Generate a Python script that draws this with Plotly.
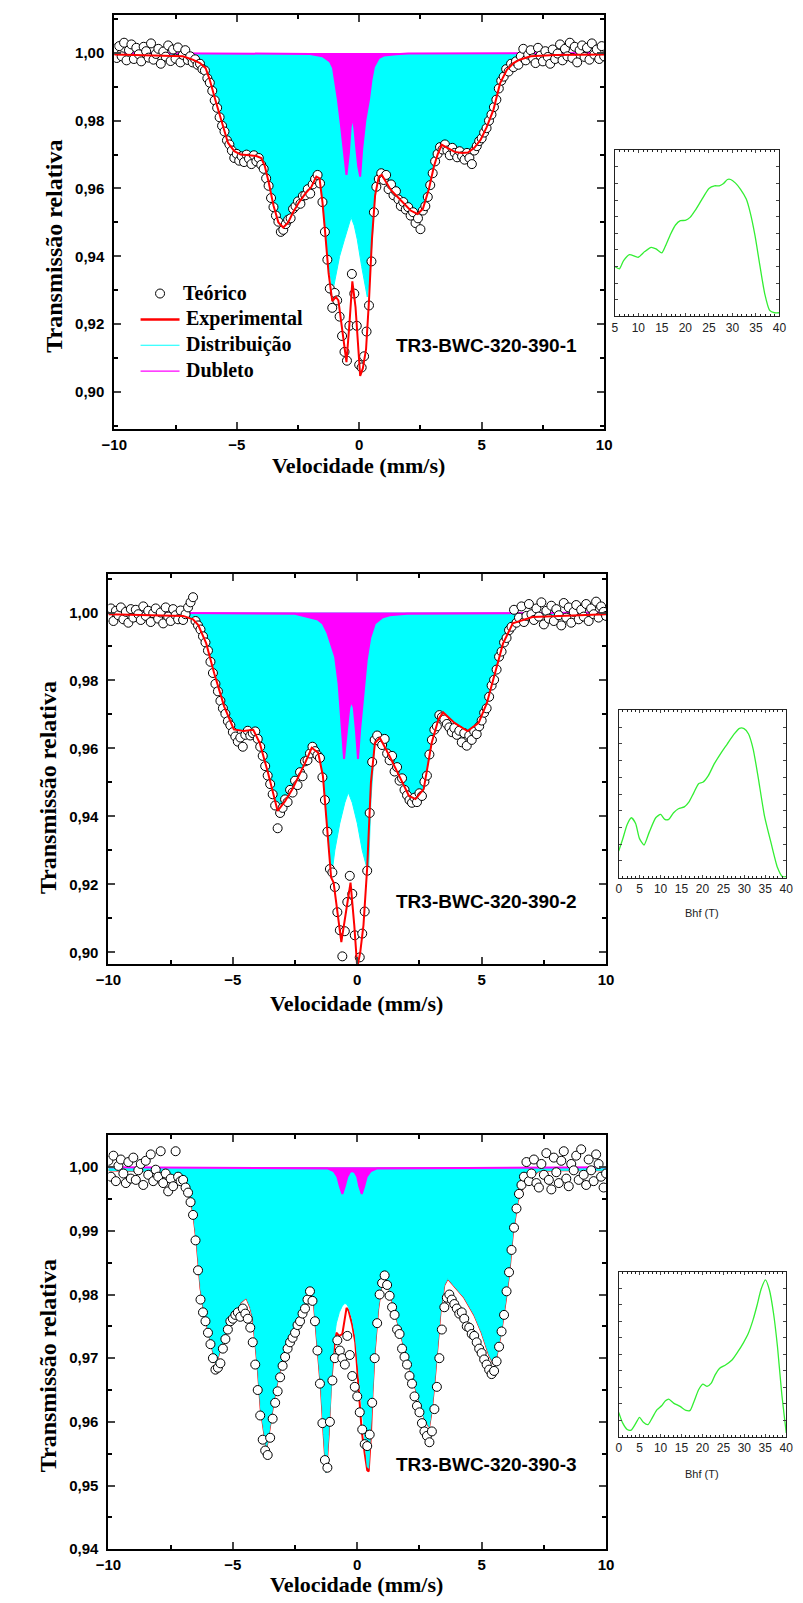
import plotly.graph_objects as go

FIG_W, FIG_H = 803, 1603

# ---------------- velocity channels (mm/s) ----------------
X_CH = [
    -10.0, -9.9, -9.8, -9.7, -9.6, -9.5, -9.4, -9.3, -9.2, -9.1,
    -9.0, -8.9, -8.8, -8.7, -8.6, -8.5, -8.4, -8.3, -8.2, -8.1,
    -8.0, -7.9, -7.8, -7.7, -7.6, -7.5, -7.4, -7.3, -7.2, -7.1,
    -7.0, -6.9, -6.8, -6.7, -6.6, -6.5, -6.4, -6.3, -6.2, -6.1,
    -6.0, -5.9, -5.8, -5.7, -5.6, -5.5, -5.4, -5.3, -5.2, -5.1,
    -5.0, -4.9, -4.8, -4.7, -4.6, -4.5, -4.4, -4.3, -4.2, -4.1,
    -4.0, -3.9, -3.8, -3.7, -3.6, -3.5, -3.4, -3.3, -3.2, -3.1,
    -3.0, -2.9, -2.8, -2.7, -2.6, -2.5, -2.4, -2.3, -2.2, -2.1,
    -2.0, -1.9, -1.8, -1.7, -1.6, -1.5, -1.4, -1.3, -1.2, -1.1,
    -1.0, -0.9, -0.8, -0.7, -0.6, -0.5, -0.4, -0.3, -0.2, -0.1,
    0.0, 0.1, 0.2, 0.3, 0.4, 0.5, 0.6, 0.7, 0.8, 0.9,
    1.0, 1.1, 1.2, 1.3, 1.4, 1.5, 1.6, 1.7, 1.8, 1.9,
    2.0, 2.1, 2.2, 2.3, 2.4, 2.5, 2.6, 2.7, 2.8, 2.9,
    3.0, 3.1, 3.2, 3.3, 3.4, 3.5, 3.6, 3.7, 3.8, 3.9,
    4.0, 4.1, 4.2, 4.3, 4.4, 4.5, 4.6, 4.7, 4.8, 4.9,
    5.0, 5.1, 5.2, 5.3, 5.4, 5.5, 5.6, 5.7, 5.8, 5.9,
    6.0, 6.1, 6.2, 6.3, 6.4, 6.5, 6.6, 6.7, 6.8, 6.9,
    7.0, 7.1, 7.2, 7.3, 7.4, 7.5, 7.6, 7.7, 7.8, 7.9,
    8.0, 8.1, 8.2, 8.3, 8.4, 8.5, 8.6, 8.7, 8.8, 8.9,
    9.0, 9.1, 9.2, 9.3, 9.4, 9.5, 9.6, 9.7, 9.8, 9.9,
    10.0,
]

BASELINE = 1.0

# ---------------- sample 1 ----------------
P1_PTS = [
    1.0012, 0.9985, 1.0020, 0.9990, 1.0030, 0.9978, 1.0008, 1.0025, 0.9982, 1.0015,
    0.9996, 0.9975, 1.0018, 1.0005, 0.9986, 1.0028, 0.9980, 0.9997, 1.0012, 0.9968,
    1.0004, 0.9989, 1.0022, 0.9976, 1.0010, 0.9983, 1.0016, 0.9972, 0.9994, 1.0008,
    0.9979, 0.9990, 0.9972, 0.9981, 0.9965, 0.9968, 0.9952, 0.9948, 0.9925, 0.9912,
    0.9888, 0.9860, 0.9838, 0.9810, 0.9785, 0.9768, 0.9742, 0.9730, 0.9712, 0.9690,
    0.9702, 0.9682, 0.9695, 0.9678, 0.9700, 0.9688, 0.9672, 0.9698, 0.9680, 0.9690,
    0.9670, 0.9658, 0.9630, 0.9608, 0.9572, 0.9545, 0.9520, 0.9502, 0.9472, 0.9478,
    0.9495, 0.9508, 0.9512, 0.9540, 0.9548, 0.9562, 0.9555, 0.9578, 0.9580, 0.9598,
    0.9585, 0.9612, 0.9628, 0.9640, 0.9615, 0.9560, 0.9472, 0.9390, 0.9305, 0.9248,
    0.9292, 0.9270, 0.9222, 0.9165, 0.9118, 0.9092, 0.9195, 0.9348, 0.9290, 0.9195,
    0.9080, 0.9072, 0.9105, 0.9178, 0.9255, 0.9385, 0.9530, 0.9605, 0.9628, 0.9645,
    0.9625, 0.9640, 0.9598, 0.9612, 0.9580, 0.9592, 0.9568, 0.9548, 0.9560, 0.9538,
    0.9545, 0.9520, 0.9530, 0.9498, 0.9512, 0.9480, 0.9535, 0.9548, 0.9575, 0.9610,
    0.9645, 0.9680, 0.9702, 0.9722, 0.9715, 0.9730, 0.9712, 0.9698, 0.9720, 0.9705,
    0.9692, 0.9710, 0.9695, 0.9685, 0.9705, 0.9690, 0.9672, 0.9712, 0.9725, 0.9740,
    0.9748, 0.9765, 0.9778, 0.9800, 0.9818, 0.9840, 0.9862, 0.9895, 0.9918, 0.9930,
    0.9952, 0.9945, 0.9968, 0.9958, 0.9975, 0.9965, 0.9990, 1.0012, 0.9978, 0.9995,
    1.0008, 0.9984, 0.9970, 1.0015, 0.9992, 0.9975, 1.0005, 0.9988, 0.9968, 1.0010,
    0.9982, 0.9998, 1.0025, 0.9978, 1.0012, 0.9990, 1.0030, 0.9985, 1.0018, 0.9972,
    1.0008, 1.0022, 0.9988, 1.0015, 0.9980, 1.0028, 0.9995, 1.0010, 0.9982, 1.0020,
    0.9990,
]
P1_FIT_X = [-10, -8.0, -7.2, -6.8, -6.5, -6.27, -6.1, -5.87, -5.6, -5.36,
            -5.1, -4.84, -4.5, -4.2, -4.0, -3.85, -3.7, -3.5, -3.3, -3.1,
            -2.9, -2.7, -2.45, -2.2, -1.95, -1.75, -1.62, -1.5, -1.39, -1.25,
            -1.1, -0.95, -0.85, -0.7, -0.52, -0.4, -0.28, -0.15, 0.04, 0.15,
            0.28, 0.4, 0.52, 0.65, 0.8, 0.92, 1.1, 1.3, 1.5, 1.7,
            1.9, 2.1, 2.38, 2.6, 2.85, 3.05, 3.2, 3.37, 3.6, 3.9,
            4.2, 4.44, 4.7, 4.96, 5.2, 5.48, 5.75, 6.03, 6.3, 6.55,
            7.0, 8.0, 10]
P1_FIT_Y = [0.9995, 0.9993, 0.999, 0.998, 0.997, 0.9955, 0.992, 0.986, 0.979, 0.9735,
            0.971, 0.970, 0.9698, 0.9696, 0.969, 0.9665, 0.962, 0.955, 0.950, 0.9485,
            0.950, 0.953, 0.956, 0.9585, 0.9605, 0.9635, 0.963, 0.956, 0.947, 0.935,
            0.9268, 0.928, 0.927, 0.918, 0.9088, 0.920, 0.9326, 0.925, 0.9047, 0.907,
            0.9126, 0.927, 0.945, 0.958, 0.9635, 0.964, 0.962, 0.9595, 0.958, 0.9565,
            0.955, 0.9535, 0.9525, 0.954, 0.960, 0.9665, 0.970, 0.9729, 0.972, 0.9708,
            0.9705, 0.9706, 0.972, 0.9744, 0.978, 0.9832, 0.991, 0.995, 0.997, 0.998,
            0.999, 0.9994, 0.9995]
P1_DIST_X = [-10, -8.0, -7.2, -6.8, -6.5, -6.27, -6.1, -5.87, -5.6, -5.36,
             -5.1, -4.84, -4.5, -4.2, -4.0, -3.85, -3.7, -3.5, -3.3, -3.1,
             -2.9, -2.7, -2.45, -2.2, -1.95, -1.75, -1.62, -1.5, -1.39, -1.25,
             -1.07, -0.95, -0.8, -0.6, -0.45, -0.33, -0.2, -0.08, 0.1, 0.33,
             0.45, 0.52, 0.65, 0.8, 0.92, 1.1, 1.3, 1.5, 1.7, 1.9,
             2.1, 2.38, 2.6, 2.85, 3.05, 3.2, 3.37, 3.6, 3.9, 4.2,
             4.44, 4.7, 4.96, 5.2, 5.48, 5.75, 6.03, 6.3, 6.55, 7.0,
             8.0, 10]
P1_DIST_Y = [0.9995, 0.9993, 0.999, 0.998, 0.997, 0.9955, 0.992, 0.986, 0.979, 0.9735,
             0.971, 0.970, 0.9698, 0.9696, 0.969, 0.9665, 0.962, 0.955, 0.950, 0.9485,
             0.950, 0.953, 0.956, 0.9585, 0.9605, 0.9635, 0.963, 0.956, 0.947, 0.937,
             0.930, 0.935, 0.940, 0.945, 0.949, 0.9515, 0.949, 0.945, 0.937, 0.928,
             0.936, 0.945, 0.958, 0.9635, 0.964, 0.962, 0.9595, 0.958, 0.9565, 0.955,
             0.9535, 0.9525, 0.954, 0.960, 0.9665, 0.970, 0.9729, 0.972, 0.9708, 0.9705,
             0.9706, 0.972, 0.9744, 0.978, 0.9832, 0.991, 0.995, 0.997, 0.998, 0.999,
             0.9994, 0.9995]
P1_DUB_X = [-10, -2.0, -1.5, -1.2, -1.07, -0.95, -0.87, -0.75, -0.62, -0.52,
            -0.42, -0.35, -0.28, -0.2, -0.12, -0.04, 0.04, 0.12, 0.25, 0.4,
            0.5, 0.6, 0.8, 1.0, 1.5, 2.0, 10]
P1_DUB_Y = [1.0, 0.9997, 0.999, 0.9975, 0.9956, 0.990, 0.9862, 0.979, 0.9715, 0.964,
            0.9705, 0.978, 0.9812, 0.978, 0.972, 0.9665, 0.9635, 0.9715, 0.980, 0.9862,
            0.992, 0.9958, 0.9985, 0.9992, 0.9996, 0.9998, 1.0]

# ---------------- sample 2 ----------------
P2_PTS = [
    0.9988, 1.0012, 0.9975, 1.0005, 0.9992, 1.0015, 0.9980, 1.0002, 0.9970, 1.0010,
    0.9985, 1.0008, 0.9995, 0.9978, 1.0018, 0.9990, 1.0005, 0.9972, 0.9998, 1.0012,
    0.9982, 1.0000, 0.9968, 1.0015, 0.9988, 0.9975, 1.0010, 0.9992, 0.9980, 1.0006,
    0.9978, 0.9995, 1.0015, 1.0030, 1.0045, 0.9975, 0.9962, 0.9950, 0.9930, 0.9912,
    0.9888, 0.9855, 0.9822, 0.9790, 0.9768, 0.9740, 0.9718, 0.9702, 0.9680, 0.9668,
    0.9648, 0.9635, 0.9620, 0.9632, 0.9605, 0.9640, 0.9652, 0.9638, 0.9645, 0.9650,
    0.9628, 0.9605, 0.9578, 0.9548, 0.9520, 0.9495, 0.9465, 0.9432, 0.9365, 0.9410,
    0.9425, 0.9450, 0.9442, 0.9478, 0.9470, 0.9505, 0.9492, 0.9530, 0.9518, 0.9562,
    0.9565, 0.9585, 0.9605, 0.9592, 0.9580, 0.9572, 0.9515, 0.9448, 0.9355, 0.9245,
    0.9235, 0.9192, 0.9118, 0.9065, 0.8988, 0.9062, 0.9148, 0.9225, 0.9172, 0.9050,
    0.8950, 0.8985, 0.9055, 0.9120, 0.9240, 0.9410, 0.9560, 0.9625, 0.9638, 0.9620,
    0.9610, 0.9628, 0.9585, 0.9565, 0.9578, 0.9532, 0.9545, 0.9505, 0.9512, 0.9478,
    0.9462, 0.9448, 0.9440, 0.9455, 0.9442, 0.9468, 0.9460, 0.9502, 0.9520, 0.9582,
    0.9625, 0.9655, 0.9665, 0.9698, 0.9692, 0.9685, 0.9672, 0.9662, 0.9648, 0.9660,
    0.9640, 0.9652, 0.9618, 0.9645, 0.9608, 0.9638, 0.9625, 0.9650, 0.9642, 0.9665,
    0.9682, 0.9705, 0.9718, 0.9752, 0.9785, 0.9802, 0.9832, 0.9870, 0.9885, 0.9912,
    0.9925, 0.9948, 0.9958, 1.0008, 0.9970, 0.9985, 1.0018, 0.9972, 0.9990, 1.0025,
    0.9995, 0.9978, 1.0012, 0.9988, 1.0030, 0.9965, 1.0005, 0.9982, 1.0020, 0.9975,
    1.0010, 0.9992, 0.9962, 1.0028, 0.9985, 1.0015, 0.9970, 1.0002, 1.0022, 0.9980,
    1.0008, 0.9988, 1.0025, 0.9975, 1.0012, 0.9995, 1.0032, 0.9985, 1.0018, 1.0002,
    0.9990,
]
P2_FIT_X = [-10, -7.0, -6.6, -6.39, -6.07, -5.75, -5.35, -4.96, -4.57, -4.18,
            -3.92, -3.59, -3.2, -2.9, -2.61, -2.09, -1.83, -1.57, -1.38, -1.2,
            -1.05, -0.95, -0.8, -0.64, -0.45, -0.27, -0.12, 0.0, 0.12, 0.25,
            0.4, 0.55, 0.71, 0.91, 1.3, 1.69, 2.08, 2.34, 2.67, 2.99,
            3.26, 3.45, 3.91, 4.43, 4.88, 5.21, 5.54, 5.86, 6.25, 7.04,
            10]
P2_FIT_Y = [0.9995, 0.999, 0.998, 0.9963, 0.9909, 0.9821, 0.9724, 0.9656, 0.9651, 0.9655,
            0.9616, 0.9529, 0.9416, 0.9445, 0.948, 0.9558, 0.9602, 0.9587, 0.9519, 0.935,
            0.922, 0.9205, 0.912, 0.903, 0.912, 0.9205, 0.908, 0.8955, 0.900, 0.908,
            0.925, 0.95, 0.9616, 0.9631, 0.9577, 0.9519, 0.946, 0.9451, 0.948, 0.9616,
            0.9685, 0.9706, 0.9675, 0.9651, 0.9675, 0.9734, 0.9821, 0.9909, 0.9968, 0.9987,
            0.9995]
P2_DIST_X = [-10, -7.0, -6.6, -6.39, -6.07, -5.75, -5.35, -4.96, -4.57, -4.18,
             -3.92, -3.59, -3.2, -2.9, -2.61, -2.09, -1.83, -1.57, -1.38, -1.2,
             -1.04, -0.9, -0.7, -0.5, -0.36, -0.2, 0.0, 0.2, 0.45, 0.55,
             0.71, 0.91, 1.3, 1.69, 2.08, 2.34, 2.67, 2.99, 3.26, 3.45,
             3.91, 4.43, 4.88, 5.21, 5.54, 5.86, 6.25, 7.04, 10]
P2_DIST_Y = [0.9995, 0.999, 0.998, 0.9963, 0.9909, 0.9821, 0.9724, 0.9656, 0.9651, 0.9655,
             0.9616, 0.9529, 0.9416, 0.9445, 0.948, 0.9558, 0.9602, 0.9587, 0.9519, 0.935,
             0.922, 0.930, 0.938, 0.944, 0.947, 0.944, 0.938, 0.930, 0.923, 0.945,
             0.9616, 0.9631, 0.9577, 0.9519, 0.946, 0.9451, 0.948, 0.9616, 0.9685, 0.9706,
             0.9675, 0.9651, 0.9675, 0.9734, 0.9821, 0.9909, 0.9968, 0.9987, 0.9995]
P2_DUB_X = [-10, -2.5, -1.58, -1.39, -1.2, -1.05, -0.89, -0.75, -0.62, -0.53,
            -0.42, -0.32, -0.23, -0.14, -0.05, 0.03, 0.12, 0.25, 0.38, 0.52,
            0.71, 1.0, 1.3, 2.0, 10]
P2_DUB_Y = [1.0, 0.9996, 0.9979, 0.9968, 0.994, 0.9905, 0.987, 0.979, 0.966, 0.9569,
            0.965, 0.972, 0.9739, 0.972, 0.965, 0.9569, 0.966, 0.977, 0.986, 0.9925,
            0.9968, 0.9985, 0.9992, 0.9996, 1.0]

# ---------------- sample 3 ----------------
P3_PTS = [
    1.0010, 0.9985, 1.0018, 0.9978, 1.0002, 1.0012, 0.9990, 0.9975, 1.0008, 0.9982,
    1.0015, 0.9980, 0.9995, 1.0005, 0.9972, 1.0010, 0.9988, 1.0020, 0.9978, 0.9996,
    0.9985, 1.0025, 0.9975, 0.9990, 0.9962, 0.9982, 0.9970, 1.0025, 0.9985, 0.9978,
    0.9980, 0.9968, 0.9960, 0.9945, 0.9925, 0.9885, 0.9838, 0.9792, 0.9772, 0.9758,
    0.9740, 0.9722, 0.9700, 0.9682, 0.9685, 0.9692, 0.9715, 0.9730, 0.9745, 0.9758,
    0.9762, 0.9768, 0.9772, 0.9765, 0.9778, 0.9770, 0.9762, 0.9748, 0.9725, 0.9690,
    0.9650, 0.9610, 0.9572, 0.9555, 0.9548, 0.9575, 0.9605, 0.9630, 0.9648, 0.9670,
    0.9688, 0.9702, 0.9715, 0.9725, 0.9732, 0.9740, 0.9752, 0.9758, 0.9770, 0.9778,
    0.9792, 0.9805, 0.9790, 0.9758, 0.9712, 0.9660, 0.9598, 0.9540, 0.9528, 0.9600,
    0.9665, 0.9700, 0.9728, 0.9712, 0.9700, 0.9690, 0.9735, 0.9705, 0.9672, 0.9655,
    0.9640, 0.9615, 0.9588, 0.9565, 0.9562, 0.9580, 0.9630, 0.9700, 0.9755, 0.9800,
    0.9818, 0.9830, 0.9815, 0.9798, 0.9780, 0.9768, 0.9745, 0.9738, 0.9715, 0.9702,
    0.9690, 0.9672, 0.9660, 0.9640, 0.9625, 0.9615, 0.9598, 0.9585, 0.9578, 0.9568,
    0.9585, 0.9620, 0.9655, 0.9700, 0.9745, 0.9780, 0.9795, 0.9800, 0.9792, 0.9785,
    0.9778, 0.9770, 0.9772, 0.9762, 0.9750, 0.9748, 0.9738, 0.9735, 0.9725, 0.9715,
    0.9708, 0.9698, 0.9690, 0.9682, 0.9675, 0.9680, 0.9695, 0.9718, 0.9742, 0.9768,
    0.9805, 0.9835, 0.9870, 0.9905, 0.9935, 0.9958, 0.9972, 0.9985, 1.0008, 0.9978,
    0.9990, 1.0012, 0.9975, 0.9968, 1.0005, 0.9988, 1.0022, 0.9980, 0.9965, 1.0015,
    0.9992, 0.9975, 1.0010, 1.0025, 0.9982, 0.9970, 1.0005, 0.9995, 1.0018, 0.9980,
    1.0028, 0.9988, 0.9972, 1.0012, 0.9995, 0.9978, 1.0020, 1.0005, 0.9985, 0.9968,
    0.9990,
]
P3_FIT_X = [-10, -8.0, -7.3, -7.0, -6.8, -6.6, -6.45, -6.3, -6.15, -6.0,
            -5.85, -5.68, -5.5, -5.3, -5.1, -4.9, -4.7, -4.46, -4.3, -4.2,
            -4.1, -4.0, -3.88, -3.75, -3.65, -3.5, -3.35, -3.2, -3.0, -2.8,
            -2.51, -2.2, -1.98, -1.84, -1.75, -1.67, -1.55, -1.45, -1.35, -1.25,
            -1.15, -1.07, -0.95, -0.84, -0.72, -0.6, -0.5, -0.43, -0.35, -0.2,
            -0.08, 0.08, 0.18, 0.3, 0.4, 0.46, 0.55, 0.61, 0.7, 0.84,
            1.0, 1.1, 1.25, 1.5, 1.8, 2.1, 2.4, 2.7, 2.89, 3.0,
            3.1, 3.2, 3.35, 3.5, 3.64, 3.9, 4.3, 4.7, 5.0, 5.3,
            5.48, 5.6, 5.8, 6.0, 6.12, 6.25, 6.45, 6.78, 7.3, 8.0,
            10]
P3_FIT_Y = [0.9995, 0.9993, 0.9988, 0.9978, 0.9963, 0.993, 0.988, 0.981, 0.977, 0.9745,
            0.972, 0.9691, 0.9715, 0.9738, 0.9755, 0.9772, 0.9787, 0.9795, 0.978, 0.9765,
            0.9728, 0.9685, 0.962, 0.958, 0.9558, 0.9595, 0.9635, 0.9665, 0.970, 0.9722,
            0.9747, 0.9775, 0.979, 0.9802, 0.979, 0.975, 0.970, 0.9647, 0.958, 0.952,
            0.958, 0.9647, 0.971, 0.974, 0.9735, 0.9738, 0.9762, 0.9779, 0.9775, 0.9752,
            0.9725, 0.9647, 0.9585, 0.955, 0.9524, 0.9522, 0.958, 0.9645, 0.971, 0.9777,
            0.9822, 0.9833, 0.9815, 0.9775, 0.973, 0.9685, 0.9645, 0.9605, 0.9592, 0.962,
            0.966, 0.971, 0.9775, 0.9815, 0.9825, 0.9813, 0.9795, 0.9768, 0.974, 0.9705,
            0.9691, 0.9703, 0.9745, 0.980, 0.9838, 0.9895, 0.9947, 0.9979, 0.9994, 0.9995,
            0.9995]
P3_DIST_X = P3_FIT_X
P3_DIST_Y = [0.9995, 0.9993, 0.9988, 0.9978, 0.9963, 0.993, 0.988, 0.981, 0.977, 0.9745,
             0.972, 0.9691, 0.9715, 0.9738, 0.9755, 0.9772, 0.9787, 0.9795, 0.978, 0.9765,
             0.9728, 0.9685, 0.962, 0.958, 0.9558, 0.9595, 0.9635, 0.9665, 0.970, 0.9722,
             0.9747, 0.9775, 0.979, 0.9802, 0.979, 0.975, 0.970, 0.9647, 0.958, 0.952,
             0.958, 0.9647, 0.9725, 0.9755, 0.9772, 0.9782, 0.9786, 0.9785, 0.978, 0.9762,
             0.9735, 0.967, 0.9625, 0.9565, 0.953, 0.9527, 0.959, 0.9647, 0.971, 0.9777,
             0.9822, 0.9833, 0.9815, 0.9775, 0.973, 0.9685, 0.9645, 0.9605, 0.9592, 0.962,
             0.966, 0.971, 0.9775, 0.9815, 0.9825, 0.9813, 0.9795, 0.9768, 0.974, 0.9705,
             0.9691, 0.9703, 0.9745, 0.980, 0.9838, 0.9895, 0.9947, 0.9979, 0.9994, 0.9995,
             0.9995]
P3_DUB_X = [-10, -1.2, -0.95, -0.8, -0.7, -0.6, -0.5, -0.4, -0.3, -0.21,
            -0.1, 0.0, 0.08, 0.18, 0.28, 0.38, 0.55, 0.8, 10]
P3_DUB_Y = [1.0, 0.9998, 0.9994, 0.9985, 0.997, 0.9958, 0.997, 0.9985, 0.9992, 0.9994,
            0.9992, 0.9985, 0.997, 0.9958, 0.997, 0.9985, 0.9994, 0.9998, 1.0]

# ---------------- hyperfine field distributions (insets) ----------------
INS1_B = [5, 5.97, 6.86, 8.1, 9.97, 11.35, 12.73, 13.76, 15.0, 15.8,
          16.87, 17.9, 18.94, 19.98, 21.0, 22.05, 23.43, 25.01, 26.19, 27.22,
          28.12, 28.95, 29.64, 30.67, 31.7, 32.95, 33.78, 34.81, 35.85, 36.88,
          37.92, 38.95, 40]
INS1_P = [0.30, 0.286, 0.336, 0.372, 0.356, 0.39, 0.416, 0.406, 0.382, 0.426,
          0.496, 0.55, 0.576, 0.578, 0.596, 0.636, 0.70, 0.77, 0.786, 0.786,
          0.80, 0.824, 0.824, 0.802, 0.766, 0.706, 0.626, 0.486, 0.306, 0.136,
          0.036, 0.022, 0.022]
INS2_B = [0, 0.93, 2.02, 3.02, 4.03, 4.96, 6.05, 7.29, 8.84, 10.0,
          11.0, 11.94, 13.1, 14.26, 15.66, 16.74, 17.91, 19.07, 20.08, 21.4,
          22.8, 24.34, 25.9, 27.44, 28.84, 29.92, 31.0, 32.1, 33.26, 34.81,
          36.36, 37.91, 39.07, 40]
INS2_P = [0.159, 0.229, 0.318, 0.358, 0.324, 0.233, 0.195, 0.272, 0.358, 0.378,
          0.348, 0.348, 0.388, 0.412, 0.423, 0.451, 0.507, 0.562, 0.570, 0.61,
          0.68, 0.742, 0.799, 0.855, 0.893, 0.891, 0.859, 0.769, 0.606, 0.368,
          0.209, 0.06, 0.006, 0.006]
INS3_B = [0, 0.93, 2.02, 2.95, 4.03, 4.96, 5.89, 6.98, 8.06, 9.15,
          10.23, 11.16, 11.94, 13.1, 14.65, 16.05, 17.05, 17.98, 19.07, 20.08,
          21.09, 22.09, 23.02, 24.11, 25.5, 27.05, 28.45, 29.77, 30.93, 32.09,
          33.02, 34.03, 35.04, 35.97, 36.98, 37.91, 38.91, 40]
INS3_P = [0.148, 0.084, 0.044, 0.040, 0.080, 0.118, 0.088, 0.074, 0.118, 0.164,
          0.188, 0.218, 0.228, 0.204, 0.184, 0.16, 0.16, 0.214, 0.285, 0.319,
          0.305, 0.325, 0.375, 0.415, 0.435, 0.465, 0.515, 0.569, 0.625, 0.709,
          0.795, 0.896, 0.95, 0.89, 0.745, 0.545, 0.265, 0.024]

SAMPLE_LABELS = ["TR3-BWC-320-390-1", "TR3-BWC-320-390-2", "TR3-BWC-320-390-3"]
LEGEND_NAMES = ["Teórico", "Experimental", "Distribuição", "Dubleto"]

RED, CYAN, MAGENTA, GREEN = "#ff0000", "#00ffff", "#ff00ff", "#33ee33"


def xd(a, b):
    return [a / FIG_W, b / FIG_W]


def yd(top, bottom):
    return [1 - bottom / FIG_H, 1 - top / FIG_H]


def px(x):
    return x / FIG_W


def py(y):
    return 1 - y / FIG_H


fig = go.Figure()


def add_spectrum(n, pts, fx, fy, dx, dy, ux, uy, red_on_top):
    xa, ya = f"x{n if n > 1 else ''}", f"y{n if n > 1 else ''}"
    common = dict(xaxis=xa, yaxis=ya, showlegend=False, hoverinfo="skip")
    red = go.Scatter(x=fx, y=fy, mode="lines", line=dict(color=RED, width=2), **common)
    if not red_on_top:
        fig.add_trace(red)
    fig.add_trace(go.Scatter(x=[dx[0], dx[-1]], y=[BASELINE, BASELINE], mode="lines",
                             line=dict(width=0, color=CYAN), **common))
    fig.add_trace(go.Scatter(x=dx, y=dy, mode="lines", fill="tonexty", fillcolor=CYAN,
                             line=dict(color=CYAN, width=1), **common))
    fig.add_trace(go.Scatter(x=[ux[0], ux[-1]], y=[BASELINE, BASELINE], mode="lines",
                             line=dict(width=0, color=MAGENTA), **common))
    fig.add_trace(go.Scatter(x=ux, y=uy, mode="lines", fill="tonexty", fillcolor=MAGENTA,
                             line=dict(color=MAGENTA, width=2), **common))
    fig.add_trace(go.Scatter(x=X_CH, y=pts, mode="markers",
                             marker=dict(symbol="circle", size=9, color="white",
                                         line=dict(color="black", width=1)), **common))
    if red_on_top:
        fig.add_trace(red)


add_spectrum(1, P1_PTS, P1_FIT_X, P1_FIT_Y, P1_DIST_X, P1_DIST_Y, P1_DUB_X, P1_DUB_Y, True)
add_spectrum(3, P2_PTS, P2_FIT_X, P2_FIT_Y, P2_DIST_X, P2_DIST_Y, P2_DUB_X, P2_DUB_Y, True)
add_spectrum(5, P3_PTS, P3_FIT_X, P3_FIT_Y, P3_DIST_X, P3_DIST_Y, P3_DUB_X, P3_DUB_Y, False)

for n, bx, by in [(2, INS1_B, INS1_P), (4, INS2_B, INS2_P), (6, INS3_B, INS3_P)]:
    fig.add_trace(go.Scatter(x=bx, y=by, mode="lines",
                             line=dict(color=GREEN, width=1.3, shape="spline", smoothing=0.6),
                             xaxis=f"x{n}", yaxis=f"y{n}", showlegend=False, hoverinfo="skip"))

TICKFONT = dict(family="Liberation Sans", size=15, color="black", weight="bold")
main_x = dict(range=[-10, 10], dtick=5, tick0=0, ticks="inside", ticklen=7, tickwidth=2,
              linewidth=2, linecolor="black", mirror="allticks", showgrid=False, zeroline=False,
              tickfont=TICKFONT, ticklabelstandoff=1,
              minor=dict(ticks="inside", dtick=2.5, ticklen=4, tickwidth=1.5, tickcolor="black"))
main_y = dict(ticks="inside", ticklen=7, tickwidth=2, tickformat=".2f",
              linewidth=2, linecolor="black", mirror="allticks", showgrid=False, zeroline=False,
              tickfont=TICKFONT, ticklabelstandoff=5)
ins_x = dict(ticks="inside", ticklen=3, tickwidth=1, linewidth=1, linecolor="#222",
             mirror="allticks", showgrid=False, zeroline=False, dtick=5,
             tickfont=dict(family="Liberation Sans", size=12, color="#222"),
             minor=dict(ticks="inside", dtick=1, ticklen=2, tickcolor="#222"))
ins_y = dict(range=[0, 1], ticks="inside", ticklen=3, tickwidth=1, linewidth=1, linecolor="#222",
             mirror="allticks", showgrid=False, zeroline=False, dtick=0.1, showticklabels=False)
minor_y = lambda d: dict(ticks="inside", dtick=d, ticklen=4, tickwidth=1.5, tickcolor="black")

fig.update_layout(
    width=FIG_W, height=FIG_H, margin=dict(l=0, r=0, t=0, b=0),
    paper_bgcolor="white", plot_bgcolor="white", separators=",.", showlegend=False,
    xaxis=dict(domain=xd(104, 607), anchor="y", **main_x),
    yaxis=dict(domain=yd(15, 431), anchor="x", range=[0.8891, 1.0112], dtick=0.02, tick0=0.9,
               minor=minor_y(0.01), **main_y),
    xaxis3=dict(domain=xd(98, 609), anchor="y3", **main_x),
    yaxis3=dict(domain=yd(577, 969), anchor="x3", range=[0.8965, 1.0113], dtick=0.02, tick0=0.9,
                minor=minor_y(0.01), **main_y),
    xaxis5=dict(domain=xd(98, 609), anchor="y5", **main_x),
    yaxis5=dict(domain=yd(1141, 1557), anchor="x5", range=[0.94, 1.005], dtick=0.01, tick0=0.94,
                minor=minor_y(0.005), **main_y),
    xaxis2=dict(domain=xd(618, 787), anchor="y2", range=[5, 40], **ins_x),
    yaxis2=dict(domain=yd(151, 318), anchor="x2", **ins_y),
    xaxis4=dict(domain=xd(622, 794), anchor="y4", range=[0, 40], **ins_x),
    yaxis4=dict(domain=yd(714, 882), anchor="x4", **ins_y),
    xaxis6=dict(domain=xd(622, 794), anchor="y6", range=[0, 40], **ins_x),
    yaxis6=dict(domain=yd(1278, 1444), anchor="x6", **ins_y),
)

# ---------------- legend of panel 1 (drawn as key glyphs + labels) ----------------
shapes = [
    dict(type="circle", xref="paper", yref="paper", xsizemode="pixel", ysizemode="pixel",
         xanchor=px(151), yanchor=py(295), x0=-4.5, x1=4.5, y0=-4.5, y1=4.5,
         line=dict(color="black", width=1), fillcolor="white"),
    dict(type="line", xref="paper", yref="paper", x0=px(131), x1=px(171), y0=py(321), y1=py(321),
         line=dict(color=RED, width=2.5)),
    dict(type="line", xref="paper", yref="paper", x0=px(131), x1=px(171), y0=py(347), y1=py(347),
         line=dict(color=CYAN, width=1.2)),
    dict(type="line", xref="paper", yref="paper", x0=px(131), x1=px(171), y0=py(373), y1=py(373),
         line=dict(color=MAGENTA, width=1.2)),
]
fig.update_layout(shapes=shapes)

ann = []
LEG_FONT = dict(family="Liberation Serif", size=20, color="black", weight="bold")
for name, lx, ly in zip(LEGEND_NAMES, [173, 176, 176, 176], [294, 320, 346, 372]):
    ann.append(dict(text=name, x=px(lx), y=py(ly), xref="paper", yref="paper", showarrow=False,
                    xanchor="left", yanchor="middle", font=LEG_FONT))

TITLE_FONT = dict(family="Liberation Serif", size=22, color="black", weight="bold")
YT_FONT = dict(family="Liberation Serif", size=24, color="black", weight="bold")
LAB_FONT = dict(family="Liberation Sans", size=19, color="black", weight="bold")
for cx, cy in [(355, 468), (353, 1009), (353, 1592)]:
    ann.append(dict(text="Velocidade (mm/s)", x=px(cx), y=py(cy), xref="paper", yref="paper",
                    showarrow=False, xanchor="center", yanchor="middle", font=TITLE_FONT))
for cx, cy in [(42, 247), (36, 792), (36, 1373)]:
    ann.append(dict(text="Transmissão relativa", x=px(cx), y=py(cy), xref="paper", yref="paper",
                    showarrow=False, textangle=-90, xanchor="center", yanchor="middle", font=YT_FONT))
for lab, (cx, cy) in zip(SAMPLE_LABELS, [(486, 347), (486, 906), (486, 1472)]):
    ann.append(dict(text=lab, x=px(cx), y=py(cy), xref="paper", yref="paper",
                    showarrow=False, xanchor="center", yanchor="middle", font=LAB_FONT))
for cx, cy in [(708, 918), (708, 1481)]:
    ann.append(dict(text="Bhf (T)", x=px(cx), y=py(cy), xref="paper", yref="paper",
                    showarrow=False, xanchor="center", yanchor="middle",
                    font=dict(family="Liberation Sans", size=11, color="#222")))
fig.update_layout(annotations=ann)

fig.write_html("out.html")
